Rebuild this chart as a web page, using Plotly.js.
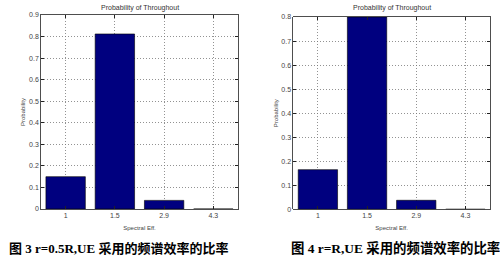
<!DOCTYPE html>
<html>
<head>
<meta charset="utf-8">
<script src="https://cdn.plot.ly/plotly-3.0.1.min.js"></script>
<style>html,body{margin:0;padding:0;background:#fff;}#chart{width:500px;height:265px;}</style>
</head>
<body>
<div id="chart"></div>
<script>
const categories = ["1", "1.5", "2.9", "4.3"];
const probLeft = [0.15, 0.812, 0.04, 0];
const probRight = [0.165, 0.80, 0.0375, 0];
const chartTitle = "Probability of Throughout";
const xLabel = "Spectral Eff.";
const yLabel = "Probability";
const captionLeft = "图 3 r=0.5R,UE 采用的频谱效率的比率";
const captionRight = "图 4 r=R,UE 采用的频谱效率的比率";

const barStyle = {color: "#00007f", line: {color: "#000000", width: 0.6}};
const traces = [
  {type: "bar", x: categories, y: probLeft, xaxis: "x", yaxis: "y", marker: barStyle, hoverinfo: "none"},
  {type: "bar", x: categories, y: probRight, xaxis: "x2", yaxis: "y2", marker: barStyle, hoverinfo: "none"}
];

const tickFont = {family: "Liberation Sans, Arial", size: 7, color: "#444"};
const labFont = {family: "Liberation Sans, Arial", size: 6, color: "#444"};
const gridStyle = {showgrid: true, gridcolor: "#777", griddash: "1px,2px", gridwidth: 0.8};
function xax(domain, anchor) {
  return Object.assign({domain: domain, anchor: anchor, type: "category", range: [-0.5, 3.5],
    showline: true, linecolor: "#222", linewidth: 0.8, mirror: "ticks",
    ticks: "inside", ticklen: 3, tickcolor: "#222", tickfont: tickFont,
    title: {text: xLabel, font: labFont, standoff: 7}, zeroline: false, fixedrange: true}, gridStyle);
}
function yax(domain, anchor, max) {
  return Object.assign({domain: domain, anchor: anchor, range: [0, max], dtick: 0.1, tick0: 0,
    showline: true, linecolor: "#222", linewidth: 0.8, mirror: "ticks",
    ticks: "inside", ticklen: 3, tickcolor: "#222", tickfont: tickFont,
    title: {text: yLabel, font: labFont, standoff: 2}, zeroline: false, fixedrange: true}, gridStyle);
}

const layout = {
  width: 500, height: 265,
  margin: {l: 0, r: 0, t: 0, b: 0},
  paper_bgcolor: "#fff", plot_bgcolor: "#fff",
  showlegend: false, bargap: 0.2,
  xaxis: xax([0.082, 0.476], "y"),
  yaxis: yax([0.2113, 0.9434], "x", 0.9),
  xaxis2: xax([0.5866, 0.98], "y2"),
  yaxis2: yax([0.2102, 0.9358], "x2", 0.8),
  annotations: [
    {text: chartTitle, xref: "paper", yref: "paper", x: 0.279, y: 0.97, xanchor: "center", yanchor: "middle", showarrow: false, font: {family: "Liberation Sans, Arial", size: 7, color: "#333"}},
    {text: chartTitle, xref: "paper", yref: "paper", x: 0.783, y: 0.97, xanchor: "center", yanchor: "middle", showarrow: false, font: {family: "Liberation Sans, Arial", size: 7, color: "#333"}},
    {text: "<b>" + captionLeft + "</b>", xref: "paper", yref: "paper", x: 7/500, y: 1 - 248/265, xanchor: "left", yanchor: "middle", showarrow: false, font: {family: "Liberation Serif, Noto Sans CJK SC", size: 13, color: "#000"}},
    {text: "<b>" + captionRight + "</b>", xref: "paper", yref: "paper", x: 289/500, y: 1 - 248/265, xanchor: "left", yanchor: "middle", showarrow: false, font: {family: "Liberation Serif, Noto Sans CJK SC", size: 13.4, color: "#000"}}
  ]
};

Plotly.newPlot("chart", traces, layout, {displayModeBar: false, staticPlot: true});
</script>
</body>
</html>
